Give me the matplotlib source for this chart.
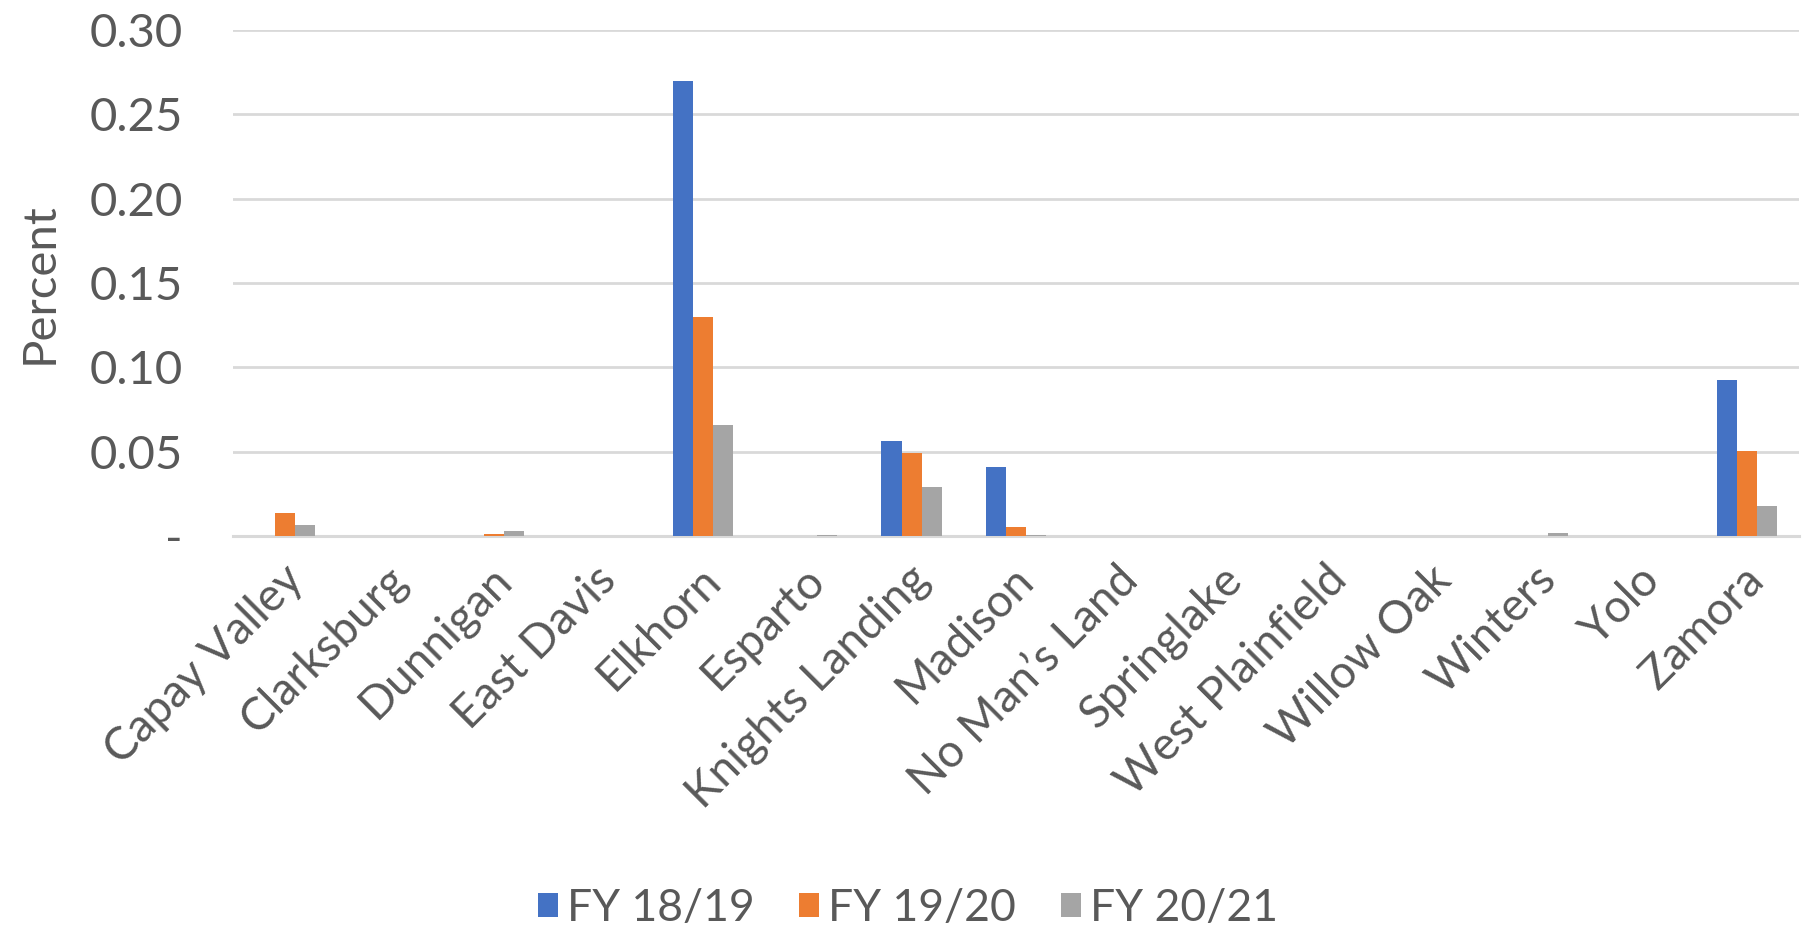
import matplotlib
matplotlib.use("Agg")
import matplotlib.pyplot as plt
import matplotlib.transforms as mtransforms
import numpy as np
from matplotlib.ticker import FixedLocator

categories = ["Capay Valley", "Clarksburg", "Dunnigan", "East Davis", "Elkhorn",
              "Esparto", "Knights Landing", "Madison", "No Man\u2019s Land", "Springlake",
              "West Plainfield", "Willow Oak", "Winters", "Yolo", "Zamora"]
fy1819 = [0.0, 0.0, 0.0, 0.0, 0.270, 0.0, 0.0565, 0.041, 0.0, 0.0, 0.0, 0.0, 0.0, 0.0, 0.0925]
fy1920 = [0.0138, 0.0, 0.0013, 0.0, 0.130, 0.0, 0.0495, 0.0052, 0.0, 0.0, 0.0, 0.0, 0.0, 0.0, 0.0503]
fy2021 = [0.0063, 0.0, 0.0030, 0.0, 0.0658, 0.0008, 0.0290, 0.0004, 0.0, 0.0, 0.0, 0.0, 0.0020, 0.0, 0.0178]
series_names = ["FY 18/19", "FY 19/20", "FY 20/21"]
ytick_vals = [0.0, 0.05, 0.10, 0.15, 0.20, 0.25, 0.30]
ytick_labels = ["-", "0.05", "0.10", "0.15", "0.20", "0.25", "0.30"]

colors = ["#4472C4", "#ED7D31", "#A5A5A5"]
text_color = "#595959"
grid_color = "#D9D9D9"
font = ["Lato", "DejaVu Sans"]
plt.rcParams["font.family"] = font
fs = 34

fig = plt.figure(figsize=(18.16, 9.34), dpi=100)
ax = fig.add_axes([233 / 1816, 1 - 536 / 934, (1799 - 233) / 1816, (536 - 30) / 934])

x = np.arange(len(categories))
bw = 1 / (3 + 2.19)
for i, (vals, name) in enumerate(zip([fy1819, fy1920, fy2021], series_names)):
    ax.bar(x + (i - 1) * bw, vals, width=bw, color=colors[i], label=name, zorder=3)

ax.set_xlim(-0.5, len(categories) - 0.5)
ax.set_ylim(0, 0.30)
ax.yaxis.set_major_locator(FixedLocator(ytick_vals))
ax.set_yticklabels(ytick_labels)
ax.grid(axis="y", color=grid_color, linewidth=2, zorder=0)
ax.set_axisbelow(True)
for s in ["top", "right", "left"]:
    ax.spines[s].set_visible(False)
ax.spines["bottom"].set_color(grid_color)
ax.spines["bottom"].set_linewidth(2.2)
ax.tick_params(axis="both", length=0, labelsize=fs, colors=text_color)
ax.tick_params(axis="y", pad=36)
ax.set_xticks(x)
ax.set_xticklabels(categories, rotation=45, ha="right", va="top", rotation_mode="anchor",
                   fontsize=33)
ax.tick_params(axis="x", pad=16)
shift = mtransforms.ScaledTranslation(-4 / 100, 0, fig.dpi_scale_trans)
for lbl in ax.get_xticklabels():
    lbl.set_transform(lbl.get_transform() + shift)
ax.set_ylabel("Percent", fontsize=fs, color=text_color, labelpad=21)

handles, labels = ax.get_legend_handles_labels()
fig.legend(handles, labels, loc="lower center", bbox_to_anchor=(0.5, -0.037), ncol=3,
           frameon=False, fontsize=32, labelcolor=text_color, handlelength=0.45,
           handleheight=0.45, handletextpad=0.2, columnspacing=1.0)

fig.savefig("out.png", dpi=100, facecolor="white")
